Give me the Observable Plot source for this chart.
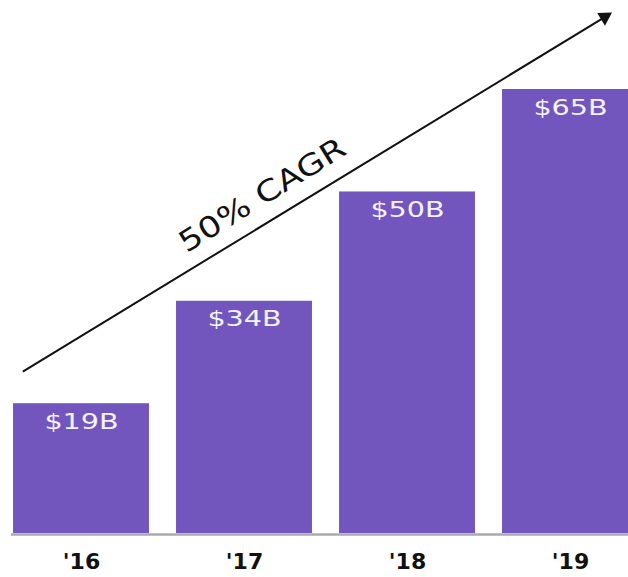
<!DOCTYPE html>
<html>
<head>
<meta charset="utf-8">
<script src="https://cdn.jsdelivr.net/npm/d3@7"></script>
<script src="https://cdn.jsdelivr.net/npm/@observablehq/plot@0.6"></script>
<style>
  html, body { margin: 0; padding: 0; background: #fff; overflow: hidden; }
  #chart svg { display: block; overflow: hidden; }
</style>
</head>
<body>
<div id="chart"></div>
<script>
// --- data ---
const years = [16, 17, 18, 19];
const values = [19, 34, 50, 65];
const valueLabels = ["$19B", "$34B", "$50B", "$65B"];
const yearLabels = ["'16", "'17", "'18", "'19"];
// growth arrow annotation, in data units (year, $B)
const arrowStart = {x: 15.64, y: 23.7};
const arrowEnd = {x: 19.21, y: 75.6};
const arrowLabel = {x: 17.11, y: 49.5, text: "50% CAGR"};

const data = years.map((yr, i) => ({year: yr, value: values[i], label: valueLabels[i], yearLabel: yearLabels[i]}));
const half = 0.417;

const purple = "#7256be";

const svg = Plot.plot({
  width: 628,
  height: 577,
  marginTop: 0, marginRight: 0, marginBottom: 0, marginLeft: 0,
  x: {type: "linear", domain: [15.5, 19.5], range: [-0.5, 651.5], axis: null},
  y: {type: "linear", domain: [0, 65], range: [533, 89], axis: null},
  style: {background: "#fff"},
  marks: [
    Plot.rectY(data, {x1: d => d.year - half, x2: d => d.year + half, y1: 0, y2: "value", fill: purple}),
    Plot.ruleY([0], {x1: 15.57, x2: 19.6, stroke: "#aaaaaa", strokeWidth: 2.5, dy: 1}),
    Plot.text(data, {x: "year", y: "value", text: "label", dy: 18, fill: "#f5f2ff",
      fontSize: 22, fontFamily: "DejaVu Sans", lineAnchor: "middle"}),
    Plot.text(data, {x: "year", y: 0, text: "yearLabel", dy: 29, fill: "#111",
      fontSize: 21, fontWeight: "bold", fontFamily: "DejaVu Sans", lineAnchor: "middle"}),
    Plot.link([{x1: arrowStart.x, y1: arrowStart.y, x2: arrowEnd.x, y2: arrowEnd.y}],
      {x1: "x1", y1: "y1", x2: "x2", y2: "y2", stroke: "#111", strokeWidth: 2}),
    Plot.dot([arrowEnd], {x: "x", y: "y", symbol: "triangle", r: 5.5, rotate: 58.3, fill: "#111", stroke: "none"}),
    Plot.text([arrowLabel], {x: "x", y: "y", text: "text", rotate: -31.7, fill: "#111",
      fontSize: 29, fontFamily: "DejaVu Sans", lineAnchor: "middle"})
  ]
});

document.getElementById("chart").appendChild(svg);

// horizontal stretch of the wide geometric lettering
const stretch = [1.3, 1.05, 1.22];
const groups = svg.querySelectorAll('g[aria-label="text"]');
groups.forEach((g, gi) => {
  const k = stretch[gi] || 1;
  g.querySelectorAll("text").forEach(t => {
    const L = t.getComputedTextLength();
    t.setAttribute("textLength", (L * k).toFixed(1));
    t.setAttribute("lengthAdjust", "spacingAndGlyphs");
  });
});
</script>
</body>
</html>
